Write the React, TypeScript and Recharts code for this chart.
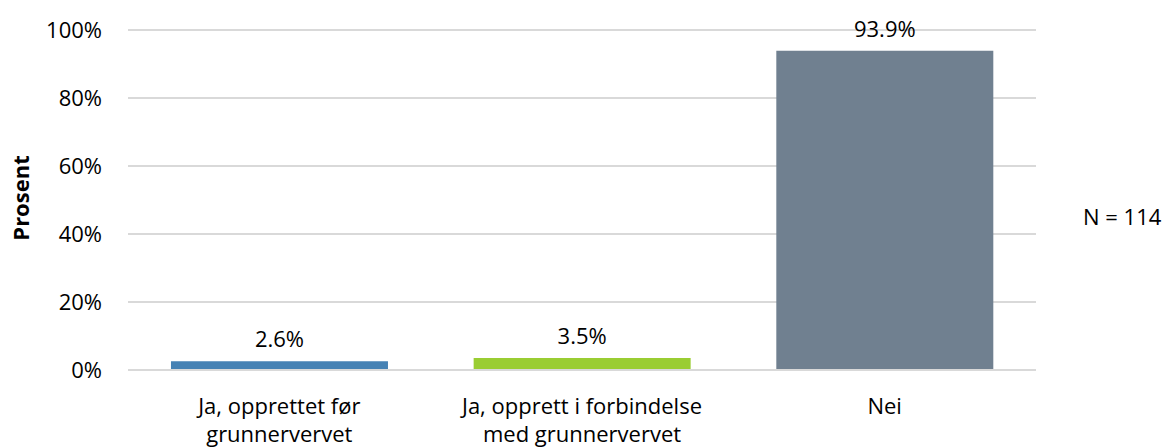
import React from "react";
import { BarChart, Bar, XAxis, YAxis, CartesianGrid, LabelList, Cell } from "recharts";

const CATEGORIES = [
  "Ja, opprettet før\ngrunnervervet",
  "Ja, opprett i forbindelse\nmed grunnervervet",
  "Nei",
];
const VALUES = [2.6, 3.5, 93.9];
const COLORS = ["#4682b4", "#9acd32", "#708090"];
const Y_TICKS = [0, 20, 40, 60, 80, 100];

const FONT = "'Open Sans', sans-serif";
const FS = 22;

const data = CATEGORIES.map((c, i) => ({ name: c, value: VALUES[i] }));

const CategoryTick = (props: any) => {
  const { x, y, payload } = props;
  const lines = String(payload.value).split("\n");
  return (
    <text x={x} y={y} textAnchor="middle" fill="#000" fontSize={FS} fontFamily={FONT}>
      {lines.map((l, i) => (
        <tspan key={i} x={x} dy={i === 0 ? 36 : 28}>
          {l}
        </tspan>
      ))}
    </text>
  );
};

const YLabel = () => (
  <text
    x={20}
    y={198}
    transform="rotate(-90 20 198)"
    textAnchor="middle"
    dominantBaseline="central"
    fontSize={FS}
    fontWeight="bold"
    fontFamily={FONT}
    fill="#000"
  >
    Prosent
  </text>
);

export default function App() {
  return (
    <div style={{ position: "absolute", left: 0, top: 0, width: 1166, height: 448, background: "#fff" }}>
      <BarChart
        width={1166}
        height={448}
        data={data}
        margin={{ top: 30, right: 130, left: 0, bottom: 0 }}
        barCategoryGap="14.2%"
      >
        <CartesianGrid vertical={false} stroke="#d9d9d9" strokeWidth={2} />
        <XAxis
          dataKey="name"
          height={78}
          interval={0}
          tickLine={false}
          axisLine={{ stroke: "#d9d9d9", strokeWidth: 2 }}
          tick={<CategoryTick />}
        />
        <YAxis
          width={128}
          domain={[0, 100]}
          ticks={Y_TICKS}
          tickFormatter={(v: number) => `${v}%`}
          tickLine={false}
          axisLine={false}
          tickSize={0}
          tickMargin={26}
          tick={{ fill: "#000", fontSize: FS, fontFamily: FONT }}
          label={<YLabel />}
        />
        <Bar dataKey="value" isAnimationActive={false}>
          {data.map((d, i) => (
            <Cell key={d.name} fill={COLORS[i]} />
          ))}
          <LabelList
            dataKey="value"
            position="top"
            offset={14}
            formatter={(v: any) => `${Number(v).toFixed(1)}%`}
            fill="#000"
            fontSize={FS}
            fontFamily={FONT}
          />
        </Bar>
      </BarChart>
      <div
        style={{
          position: "absolute",
          left: 1083,
          top: 201,
          fontFamily: FONT,
          fontSize: FS,
          color: "#000",
          whiteSpace: "nowrap",
        }}
      >
        N = 114
      </div>
    </div>
  );
}
